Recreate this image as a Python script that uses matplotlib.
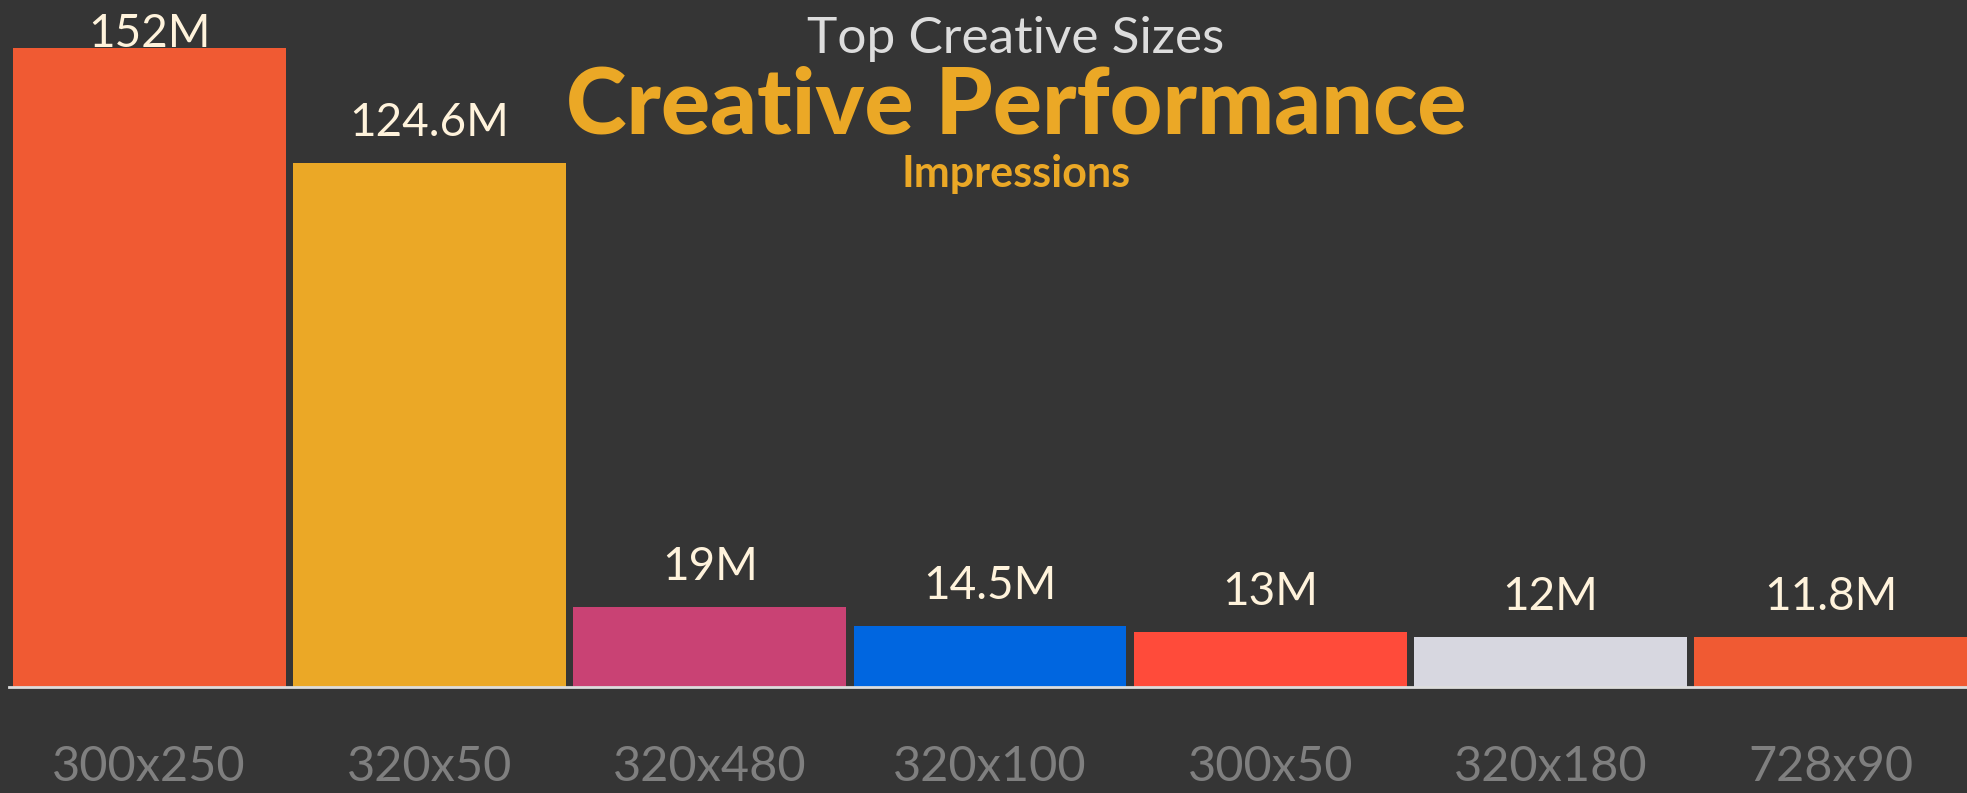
import matplotlib
matplotlib.use("Agg")
import matplotlib.pyplot as plt

# chart data
sizes = ["300x250", "320x50", "320x480", "320x100", "300x50", "320x180", "728x90"]
impressions = [152, 124.6, 19, 14.5, 13, 12, 11.8]  # millions
value_labels = ["152M", "124.6M", "19M", "14.5M", "13M", "12M", "11.8M"]
bar_colors = ["#F05A33", "#EBA826", "#C94274", "#0066E0", "#FF4B3A", "#D7D7E0", "#F05A33"]

bg = "#353535"
font = "Lato"

fig = plt.figure(figsize=(19.67, 7.93), dpi=100, facecolor=bg)
ax = fig.add_axes([9 / 1967, 1 - 687 / 793, 1962 / 1967, 687 / 793])
ax.set_facecolor(bg)

x = range(len(sizes))
ax.bar(x, impressions, width=0.973, color=bar_colors, zorder=2)

ymax = 163.4
ax.set_ylim(0, ymax)
ax.set_xlim(-0.5, len(sizes) - 0.5)

# value labels above the bars, pushed down if they would run off the top
pad = 6.4
cap = 11.2
for i, v in enumerate(impressions):
    y = min(v + pad, ymax - cap)
    ax.text(i, y, value_labels[i], ha="center", va="baseline", fontsize=33,
            color="#FFF3DC", family=font, zorder=3)

for s in ["top", "right", "left"]:
    ax.spines[s].set_visible(False)
ax.spines["bottom"].set_color("#DDDDDD")
ax.spines["bottom"].set_linewidth(2)
ax.set_yticks([])
ax.set_xticks(list(x))
ax.set_xticklabels(sizes, fontsize=35, color="#7F7F7F", family=font)
ax.tick_params(axis="x", length=0, pad=42)

# titles
cx = 1016 / 1967
fig.text(cx, 1 - 53 / 793, "Top Creative Sizes", ha="center", va="baseline",
         fontsize=37, color="#DDDDDD", family=font, weight="normal")
fig.text(cx, 1 - 133 / 793, "Creative Performance", ha="center", va="baseline",
         fontsize=66, color="#EBA826", family=font, weight="black")
fig.text(cx, 1 - 187 / 793, "Impressions", ha="center", va="baseline",
         fontsize=31, color="#EBA826", family=font, weight="bold")

fig.savefig("out.png", dpi=100, facecolor=bg)
